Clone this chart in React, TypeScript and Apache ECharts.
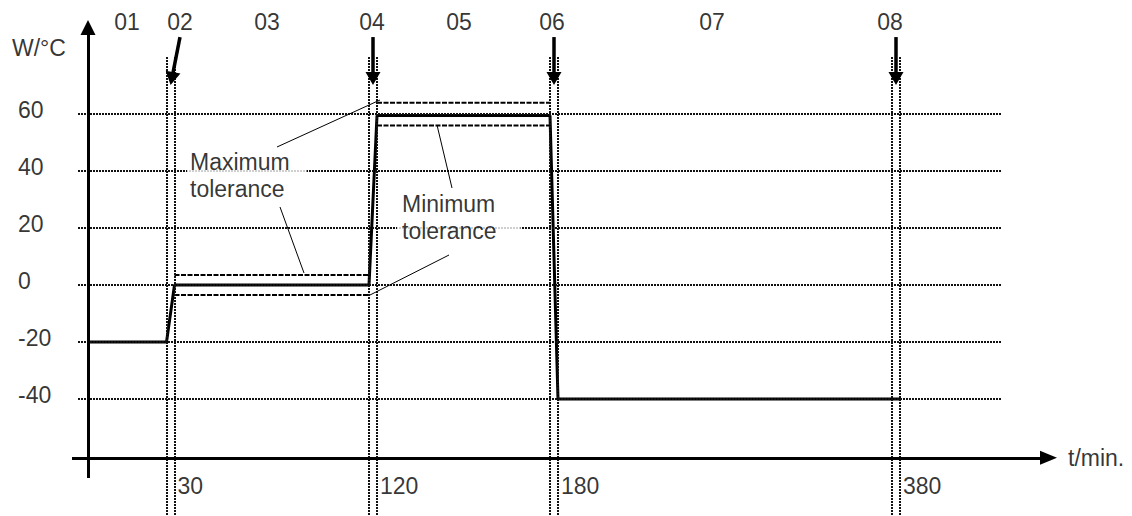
import { useEffect, useRef } from 'react';
import * as echarts from 'echarts';

// ---------------- data ----------------
const yTickValues = [60, 40, 20, 0, -20, -40];
const yUnit = 'W/°C';
const xUnit = 't/min.';
const phaseNames = ['01', '02', '03', '04', '05', '06', '07', '08'];
const transitionStarts = [30, 120, 180, 380];
const transitionLabels = ['30', '120', '180', '380'];
const rampMinutes = 2;
const profileTimes = [0, 30, 32, 120, 122, 180, 182, 382];
const profileValues = [-20, -20, 0, 0, 59.5, 59.5, -40, -40];
const toleranceFrom = [32, 122];
const toleranceTo = [120, 180];
const toleranceMax = [3.5, 64];
const toleranceMin = [-3.5, 56];
const annotationTexts = ['Maximum\ntolerance', 'Minimum\ntolerance'];

// ---------------- layout (schematic, non-linear time axis) ----------------
const KNOT_T = [0, 30, 32, 120, 122, 180, 182, 380, 382];
const KNOT_X = [0, 78.5, 86.5, 281, 289, 462, 470, 804, 812];
const tx = (t: number) => {
  for (let i = 1; i < KNOT_T.length; i++) {
    if (t <= KNOT_T[i]) {
      const f = (t - KNOT_T[i - 1]) / (KNOT_T[i] - KNOT_T[i - 1]);
      return KNOT_X[i - 1] + f * (KNOT_X[i] - KNOT_X[i - 1]);
    }
  }
  return KNOT_X[KNOT_X.length - 1];
};

const X_MIN = -88;
const X_MAX = 1044;
const Y_MIN = -81;
const Y_MAX = 100;
const AXIS_Y = -60.6;
const X_AXIS_START = -16;
const X_AXIS_HEAD = 960.5;
const Y_AXIS_BOTTOM = -67.7;
const Y_AXIS_HEAD = 90.35;
const GRID_X0 = -10;
const GRID_X1 = 914;
const MARK_TOP = 80;
const ARROW_TAIL_Y = 87;
const ARROW_HEAD_Y = 72.45;
const arrowLean = [9.5, 0, 0, 0];
const phaseLabelX = [39, 92, 179, 284, 371, 464, 624, 802];
const PHASE_Y = 92.3;
const TIME_LABEL_Y = -70.5;
const TICK_LABEL_X = -70;
const leaderLines = [
  [189, 48.44, 292, 64.92],
  [192, 27.39, 216, 4.24],
  [349, 56.15, 364, 34.05],
  [361, 10.55, 282, -3.48],
];
const annotationAnchor = [
  [99, 38.44],
  [309, 23.88],
];
const annotationPadding = [
  [0, 17, 0, 3],
  [0, 24, 0, 5],
];

const FONT = "'Liberation Sans', Arial, Helvetica, sans-serif";
const FS = 23;
const GRID_STYLE = { color: '#111', width: 2, type: [2, 1] as number[] };

type Seg = any;
const seg = (x1: number, y1: number, x2: number, y2: number, lineStyle: any, endSymbol?: any): Seg => [
  { coord: [x1, y1], symbol: 'none', lineStyle },
  endSymbol
    ? { coord: [x2, y2], symbol: 'triangle', symbolSize: endSymbol }
    : { coord: [x2, y2], symbol: 'none' },
];

function buildOption() {
  // dotted grid + vertical transition lines
  const gridSegs: Seg[] = yTickValues.map((v) => seg(GRID_X0, v, GRID_X1, v, GRID_STYLE));
  transitionStarts.forEach((t) => {
    [t, t + rampMinutes].forEach((tt) => {
      gridSegs.push(seg(tx(tt), MARK_TOP, tx(tt), Y_MIN, GRID_STYLE));
    });
  });

  // axes + arrows
  const AX = { color: '#000', width: 3, type: 'solid' };
  const ARW = { color: '#000', width: 3.5, type: 'solid' };
  const axisSegs: Seg[] = [
    seg(X_AXIS_START, AXIS_Y, X_AXIS_HEAD, AXIS_Y, AX, [14, 17]),
    seg(0, Y_AXIS_BOTTOM, 0, Y_AXIS_HEAD, AX, [15, 15]),
  ];
  transitionStarts.forEach((t, i) => {
    const c = tx(t + rampMinutes / 2);
    const lean = arrowLean[i];
    axisSegs.push(seg(c + lean, ARROW_TAIL_Y, c + lean * 0.14, ARROW_HEAD_Y, ARW, [15, 13]));
  });

  const LEAD = { color: '#000', width: 1, type: 'solid' };
  const leaderSegs: Seg[] = leaderLines.map(([a, b, c, d]) => seg(a, b, c, d, LEAD));

  const txt = { fontFamily: FONT, fontSize: FS, color: '#000' };
  const labels: any[] = [];
  phaseNames.forEach((n, i) =>
    labels.push({
      value: [phaseLabelX[i], PHASE_Y],
      label: { show: true, formatter: n, position: [0, 0], align: 'center', verticalAlign: 'middle', ...txt },
    })
  );
  transitionStarts.forEach((t, i) =>
    labels.push({
      value: [tx(t + rampMinutes), TIME_LABEL_Y],
      label: { show: true, formatter: transitionLabels[i], position: 'right', distance: 3, ...txt },
    })
  );
  yTickValues.forEach((v) =>
    labels.push({
      value: [TICK_LABEL_X, v],
      label: { show: true, formatter: String(v), position: 'right', distance: 0, offset: [0, -4], ...txt },
    })
  );
  labels.push({
    value: [-76, 83.16],
    label: { show: true, formatter: yUnit, position: 'right', distance: 0, ...txt },
  });
  labels.push({
    value: [980, AXIS_Y],
    label: { show: true, formatter: xUnit, position: 'right', distance: 0, ...txt },
  });
  annotationTexts.forEach((a, i) =>
    labels.push({
      value: annotationAnchor[i],
      label: {
        show: true,
        formatter: a,
        position: 'right',
        distance: 0,
        align: 'left',
        lineHeight: 27,
        backgroundColor: '#fff',
        padding: annotationPadding[i],
        ...txt,
      },
    })
  );

  const markLineBase = {
    silent: true,
    animation: false,
    symbol: ['none', 'none'],
    label: { show: false },
    emphasis: { disabled: true },
  };

  const tolSeries: any[] = [];
  toleranceFrom.forEach((f, i) => {
    [toleranceMax[i], toleranceMin[i]].forEach((v) => {
      tolSeries.push({
        type: 'line',
        z: 3,
        silent: true,
        symbol: 'none',
        data: [
          [tx(f), v],
          [tx(toleranceTo[i]), v],
        ],
        lineStyle: { color: '#000', width: 2, type: [5, 1.5] },
      });
    });
  });

  return {
    animation: false,
    grid: { left: 0, right: 0, top: 0, bottom: 0 },
    xAxis: { type: 'value', min: X_MIN, max: X_MAX, show: false },
    yAxis: { type: 'value', min: Y_MIN, max: Y_MAX, show: false },
    series: [
      {
        type: 'line',
        z: 1,
        silent: true,
        symbol: 'none',
        data: [[X_MIN, Y_MIN]],
        markLine: { ...markLineBase, data: gridSegs },
      },
      ...tolSeries,
      {
        type: 'line',
        z: 4,
        silent: true,
        symbol: 'none',
        data: profileTimes.map((t, i) => [tx(t), profileValues[i]]),
        lineStyle: { color: '#000', width: 3 },
      },
      {
        type: 'line',
        z: 5,
        silent: true,
        symbol: 'none',
        data: [[X_MIN, Y_MIN]],
        markLine: { ...markLineBase, data: [...axisSegs, ...leaderSegs] },
      },
      {
        type: 'scatter',
        z: 6,
        silent: true,
        symbolSize: 0,
        itemStyle: { color: 'transparent' },
        data: labels,
      },
    ],
  };
}

export default function App() {
  const ref = useRef<HTMLDivElement>(null);
  useEffect(() => {
    if (!ref.current) return;
    const chart = echarts.init(ref.current, undefined, { renderer: 'svg' });
    chart.setOption(buildOption() as any);
    return () => chart.dispose();
  }, []);
  return (
    <div
      ref={ref}
      style={{ position: 'fixed', left: 0, top: 0, width: 1132, height: 516, background: '#fff' }}
    />
  );
}
